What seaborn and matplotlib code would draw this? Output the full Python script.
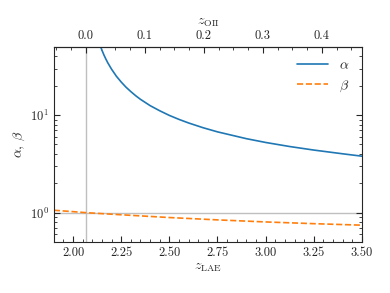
import numpy as np
import pandas as pd
import seaborn as sns
import matplotlib
matplotlib.use('Agg')
import matplotlib.pyplot as plt
from matplotlib.ticker import AutoMinorLocator

# values
z_alpha = [2.13, 2.14, 2.15, 2.16, 2.17, 2.18, 2.20, 2.225, 2.25, 2.275, 2.30,
           2.325, 2.35, 2.40, 2.45, 2.50, 2.55, 2.60, 2.675, 2.75, 2.90,
           3.00, 3.125, 3.25, 3.40, 3.50]
alpha = [60.1, 52.2, 46.2, 41.4, 37.6, 34.4, 29.5, 25.0, 21.8, 19.3, 17.4,
         15.8, 14.5, 12.5, 11.07, 9.92, 9.03, 8.30, 7.42, 6.73, 5.73,
         5.24, 4.76, 4.38, 4.01, 3.79]

z_beta = [1.90, 2.00, 2.066, 2.25, 2.50, 2.75, 3.00, 3.25, 3.50]
beta = [1.058, 1.024, 1.000, 0.951, 0.891, 0.843, 0.803, 0.771, 0.744]

lya_over_oii = 1215.67 / 3727.09

sns.set_style("ticks")
plt.rcParams['font.family'] = ['serif']
plt.rcParams['font.serif'] = ['cmr10', 'DejaVu Serif']
plt.rcParams['mathtext.fontset'] = 'cm'
plt.rcParams['axes.formatter.use_mathtext'] = True
plt.rcParams['font.size'] = 9

df_a = pd.DataFrame({'z': z_alpha, 'v': alpha})
df_b = pd.DataFrame({'z': z_beta, 'v': beta})

fig = plt.figure(figsize=(3.9, 2.93), dpi=100)
ax = fig.add_axes([0.138, 0.174, 0.790, 0.666])

ax.axvline(1.0 / lya_over_oii - 1, color='0.75', lw=1.0, zorder=0)
ax.axhline(1.0, color='0.75', lw=1.0, zorder=0)

sns.lineplot(data=df_a, x='z', y='v', ax=ax, color='#1f77b4', lw=1.2, label=r'$\alpha$')
sns.lineplot(data=df_b, x='z', y='v', ax=ax, color='#ff7f0e', lw=1.2, ls='--', label=r'$\beta$')

ax.set_yscale('log')
ax.set_xlim(1.9, 3.5)
ax.set_ylim(0.5, 50)
ax.set_xlabel(r'$z_{\rm LAE}$', fontsize=10, labelpad=2)
ax.set_ylabel(r'$\alpha,\,\beta$', fontsize=10, labelpad=2)
ax.set_xticks([2.0, 2.25, 2.5, 2.75, 3.0, 3.25, 3.5])
ax.set_xticklabels(['2.00', '2.25', '2.50', '2.75', '3.00', '3.25', '3.50'])
ax.xaxis.set_minor_locator(AutoMinorLocator(5))
ax.tick_params(which='both', direction='in', top=False, right=True, labelsize=9)
ax.tick_params(which='major', length=4)
ax.tick_params(which='minor', length=2)

sec = ax.secondary_xaxis('top', functions=(lambda z: (1 + z) * lya_over_oii - 1,
                                           lambda zo: (1 + zo) / lya_over_oii - 1))
sec.set_xticks([0.0, 0.1, 0.2, 0.3, 0.4])
sec.set_xticklabels(['0.0', '0.1', '0.2', '0.3', '0.4'])
sec.xaxis.set_minor_locator(AutoMinorLocator(4))
sec.tick_params(which='both', direction='in', labelsize=9)
sec.tick_params(which='major', length=4)
sec.tick_params(which='minor', length=2)
sec.set_xlabel(r'$z_{\rm OII}$', fontsize=10, labelpad=4)

leg = ax.legend(loc='upper right', frameon=False, fontsize=10, handlelength=2.2)

plt.savefig('out.png', dpi=100)
